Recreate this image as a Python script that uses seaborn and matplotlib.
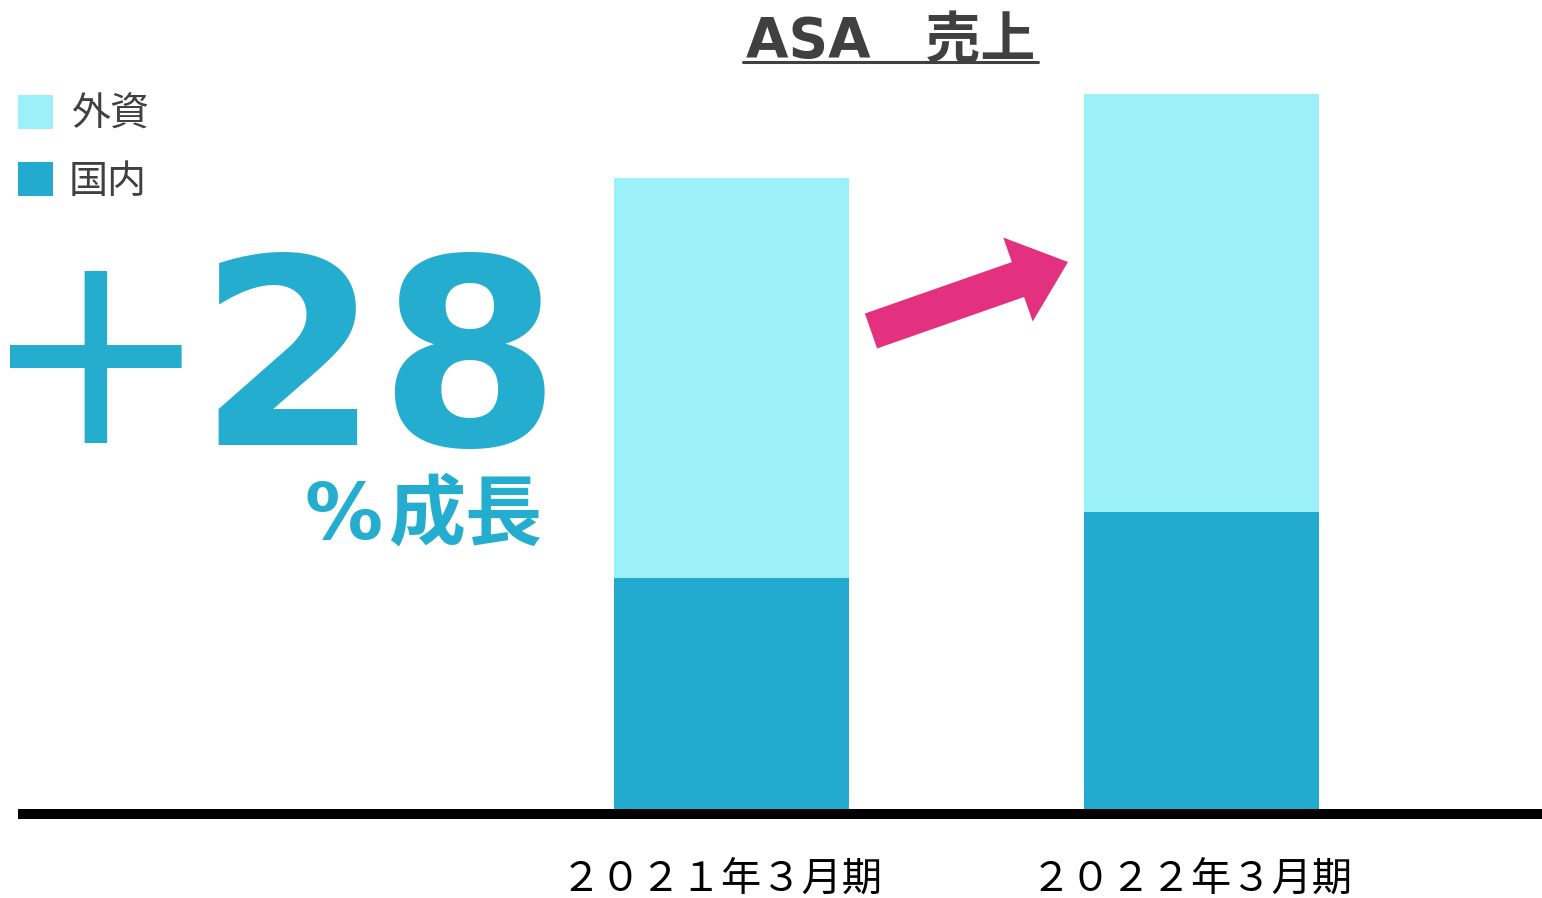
import matplotlib
matplotlib.use("Agg")
import matplotlib.pyplot as plt
import seaborn as sns
import pandas as pd
from matplotlib.textpath import TextPath
from matplotlib.font_manager import FontProperties
from matplotlib.patches import FancyArrow, Rectangle
from matplotlib.lines import Line2D
from matplotlib.transforms import Affine2D, ScaledTranslation

# ---- data ----
periods = ["２０２１年３月期", "２０２２年３月期"]
domestic = [232, 298]   # 国内
foreign = [400, 418]    # 外資
series_names = ["外資", "国内"]
title_text = "ASA　売上"
growth_label = "+28"
growth_suffix = "%成長"

LIGHT = "#9CF0F8"
DARK = "#23ABCF"
BIG = "#25ADD0"
PINK = "#E3307F"
GREY = "#404040"

sns.set_theme(style="white")
plt.rcParams["font.family"] = ["Noto Sans CJK JP", "DejaVu Sans"]

W, H = 1542, 898
DPI = 100
fig = plt.figure(figsize=(W / DPI, H / DPI), dpi=DPI)
fig.patch.set_facecolor("white")
px = Affine2D().scale(1 / W, -1 / H).translate(0, 1) + fig.transFigure

ax = fig.add_axes([18 / W, (H - 810) / H, 1524 / W, 810 / H])
df = pd.DataFrame({"period": periods, "domestic": domestic, "foreign": foreign})
df["total"] = df["domestic"] + df["foreign"]
sns.barplot(data=df, x="period", y="total", color=LIGHT, saturation=1,
            width=0.5, linewidth=0, ax=ax)
sns.barplot(data=df, x="period", y="domestic", color=DARK, saturation=1,
            width=0.5, linewidth=0, ax=ax)
ax.set_xlim(-1.518, 1.7245)
ax.set_ylim(0, 810)
for s in ax.spines.values():
    s.set_visible(False)
ax.set_yticks([])
ax.set_xlabel("")
ax.set_ylabel("")
ax.set_facecolor("none")
ax.tick_params(axis="x", length=0, pad=35, labelsize=29, labelcolor="black")
ax.axhline(-4, color="black", lw=7.2, clip_on=False, solid_capstyle="butt")
shift = ScaledTranslation(-0.10, 0, fig.dpi_scale_trans)
for lbl in ax.get_xticklabels():
    lbl.set_transform(lbl.get_transform() + shift)


def ink_text(s, top, bottom, prop, color, left=None, right=None, fit_width=None):
    tp = TextPath((0, 0), s, size=100, prop=prop)
    e = tp.get_extents()
    if fit_width is not None:
        size = 100 * fit_width / (e.width * DPI / 72)
    else:
        size = 100 * (bottom - top) / (e.height * DPI / 72)
    k = (size / 100) * DPI / 72
    if right is not None:
        ax_x = right - e.x1 * k
    else:
        ax_x = left - e.x0 * k
    base_y = bottom + e.y0 * k
    p = prop.copy()
    p.set_size(size)
    fig.text(ax_x / W, 1 - base_y / H, s, fontproperties=p, color=color,
             ha="left", va="baseline")


# title
fig.text(890.5 / W, 1 - 57 / H, title_text, ha="center", va="baseline",
         fontsize=39.5, fontweight="bold", color=GREY,
         family=["DejaVu Sans", "Noto Sans CJK JP"])
fig.add_artist(Line2D([743, 1038], [62, 62], lw=2.2, color=GREY, transform=px))

# legend
cjk = FontProperties(family="Noto Sans CJK JP")
fig.add_artist(Rectangle((18, 95), 35, 34, color=LIGHT, lw=0, transform=px))
fig.add_artist(Rectangle((18, 162), 35, 34, color=DARK, lw=0, transform=px))
ink_text(series_names[0], 93, 129, cjk, GREY, left=72)
ink_text(series_names[1], 160, 196, cjk, GREY, left=72)

# growth annotation
bold_latin = FontProperties(family="DejaVu Sans", weight="bold")
cjk_bold = FontProperties(family="Noto Sans CJK JP", weight="bold")
ink_text(growth_label[0], 271, 443, FontProperties(family="DejaVu Sans"), BIG, left=10)
ink_text(growth_label[1:], 244, 449, bold_latin, BIG, left=218, fit_width=327)
ink_text(growth_suffix[0], 481, 540, bold_latin, BIG, left=307)
ink_text(growth_suffix[1:], 478, 546, cjk_bold, BIG, right=540, fit_width=150)

# arrow
fig.add_artist(FancyArrow(871, 331, 197, -69, width=37, head_width=89,
                          head_length=53, length_includes_head=True,
                          transform=px, color=PINK, lw=0))

fig.savefig("out.png", dpi=DPI, facecolor="white")
